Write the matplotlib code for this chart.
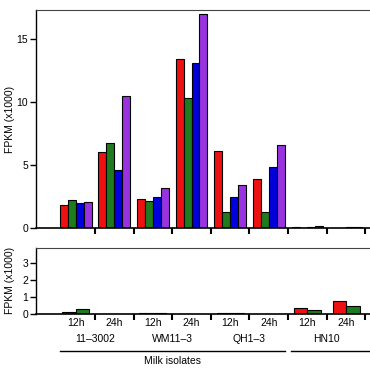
import matplotlib
matplotlib.use("Agg")
import matplotlib.pyplot as plt
import matplotlib.transforms as mtransforms
import numpy as np

plt.rcParams["font.family"] = ["Liberation Sans", "DejaVu Sans"]

# 8 sample groups: 4 strains x (12h, 24h)
times = ["12h", "24h"] * 4
strains = ["11\u20133002", "WM11\u20133", "QH1\u20133", "HN10"]

# top panel, four series (FPKM x1000)
top_red = [1.85, 6.0, 2.28, 13.4, 6.1, 3.92, 0.05, 0.04]
top_green = [2.22, 6.78, 2.15, 10.3, 1.28, 1.28, 0.04, 0.04]
top_blue = [1.95, 4.6, 2.5, 13.1, 2.48, 4.82, 0.06, 0.05]
top_purple = [2.05, 10.45, 3.18, 17.0, 3.4, 6.55, 0.2, 0.08]

# bottom panel, two series
bot_red = [0.12, 0.0, 0.03, 0.0, 0.02, 0.0, 0.32, 0.74]
bot_green = [0.26, 0.0, 0.06, 0.0, 0.02, 0.0, 0.2, 0.44]

colors = ["#ee1111", "#1e7b1e", "#0000dd", "#9933e0"]

fig = plt.figure(figsize=(3.7, 3.69), dpi=100)
ax1 = fig.add_axes([0.097, 0.382, 0.903, 0.591])
ax2 = fig.add_axes([0.097, 0.150, 0.903, 0.178])

x = np.arange(len(times))

w = 0.205
for i, (vals, c) in enumerate(zip([top_red, top_green, top_blue, top_purple], colors)):
    ax1.bar(x + (i - 1.5) * w, vals, w, color=c, edgecolor="black", linewidth=0.8)

w2 = 0.35
for i, (vals, c) in enumerate(zip([bot_red, bot_green], colors[:2])):
    ax2.bar(x + (i - 0.5) * w2, vals, w2, color=c, edgecolor="black", linewidth=0.8)

for ax in (ax1, ax2):
    ax.set_xlim(-1.03, 7.62)
    ax.spines["right"].set_visible(False)
    ax.spines["top"].set_color("#444444")
    ax.spines["left"].set_linewidth(1.0)
    ax.spines["bottom"].set_linewidth(1.2)
    ax.set_xticks(np.arange(0.5, 8, 1))
    ax.set_xticklabels([])
    ax.tick_params(axis="x", direction="out", length=4, width=1.5)
    ax.tick_params(axis="y", direction="out", length=4, width=1.0, labelsize=7.5, pad=1.5)
    ax.set_ylabel("FPKM (x1000)", fontsize=7.5)

ax1.set_ylim(0, 17.3)
ax1.set_yticks([0, 5, 10, 15])
ax2.set_ylim(0, 3.9)
ax2.set_yticks([0, 1, 2, 3])
ax1.yaxis.set_label_coords(-0.062, 0.5)
ax2.yaxis.set_label_coords(-0.062, 0.5)

tr = mtransforms.blended_transform_factory(ax2.transData, fig.transFigure)
for xi, t in zip(x, times):
    ax2.text(xi, 0.125, t, transform=tr, ha="center", va="center", fontsize=7.5)
for k, s in enumerate(strains):
    ax2.text(2 * k + 0.5, 0.081, s, transform=tr, ha="center", va="center", fontsize=7.5)

ax2.plot([-0.41, 5.42], [0.049, 0.049], transform=tr, color="black", lw=1.0, clip_on=False)
ax2.plot([5.57, 8.5], [0.049, 0.049], transform=tr, color="black", lw=1.0, clip_on=False)
ax2.text(2.5, 0.022, "Milk isolates", transform=tr, ha="center", va="center", fontsize=7.5)

fig.savefig("out.png", dpi=100)
